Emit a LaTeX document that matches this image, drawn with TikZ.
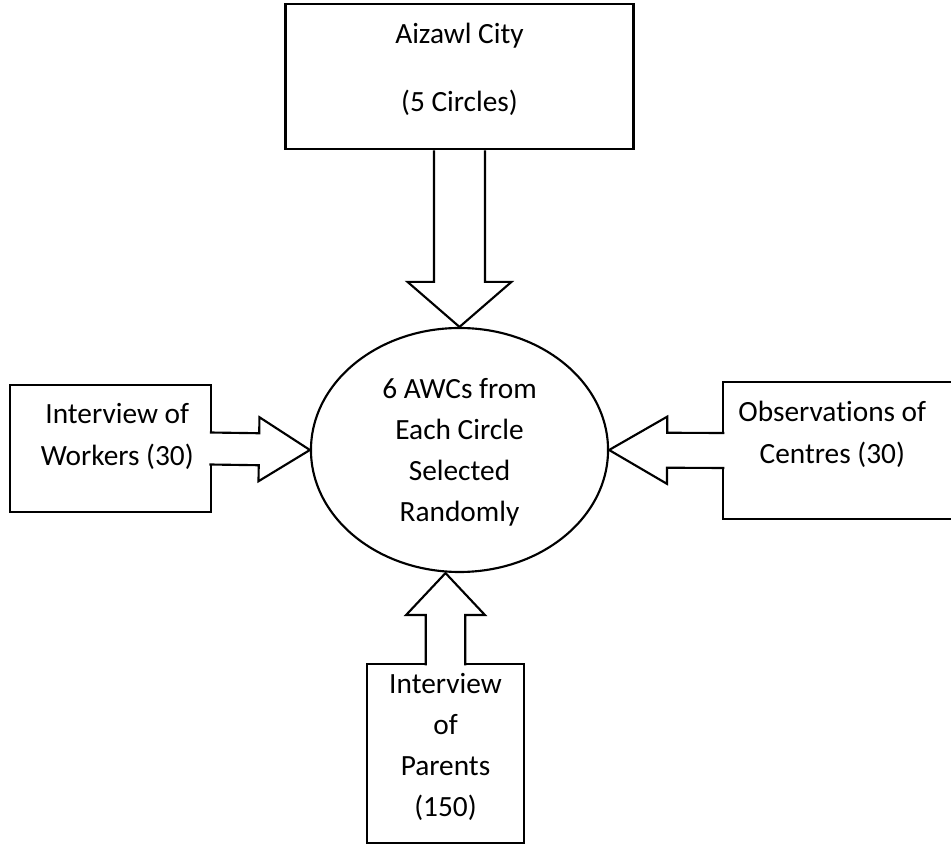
\documentclass[tikz,border=0pt]{standalone}
\usepackage{fontspec}
\setmainfont{Carlito}[Ligatures=NoCommon]
\usepackage{tikz}
\usetikzlibrary{shapes.geometric, calc}
\tikzset{
	source/.style={
		rectangle,
		draw=black,
		line width=0.8pt,
		align=center,
		inner sep=0pt,
		text depth=0pt,
		font=\fontsize{11pt}{15.4pt}\selectfont
	},
	unit/.style={
		ellipse,
		draw=black,
		line width=0.8pt,
		align=center,
		inner sep=0pt,
		text depth=0pt,
		minimum width=111.4pt,
		minimum height=91.5pt,
		font=\fontsize{11pt}{15.4pt}\selectfont
	},
	blockarrow/.style n args={3}{
		draw=black,
		fill=white,
		line width=0.8pt,
		to path={
			($(\tikztostart)!#1!90:(\tikztotarget)$)
			-- ($(\tikztotarget)!#3!(\tikztostart)!#1!-90:(\tikztostart)$)
			-- ($(\tikztotarget)!#3!(\tikztostart)!#2!-90:(\tikztostart)$)
			-- (\tikztotarget)
			-- ($(\tikztotarget)!#3!(\tikztostart)!#2!90:(\tikztostart)$)
			-- ($(\tikztotarget)!#3!(\tikztostart)!#1!90:(\tikztostart)$)
			-- ($(\tikztostart)!#1!-90:(\tikztotarget)$)
		}
	}
}

\begin{document}
\begin{tikzpicture}[x=0.375pt, y=-0.375pt]
	\useasboundingbox (0,0) rectangle (951,846);
	\clip (0,0) rectangle (951,846);
	\node (city) [source, minimum width=130.5pt, minimum height=54.5pt, text height=26.25pt] at (459.5,76.7) {Aizawl City\\[10.2pt](5 Circles)};
	\node (awc) [unit, text height=54pt] at (459.5,450) {6 AWCs from\\Each Circle\\Selected\\Randomly};
	\node (workers) [source, minimum width=75.3pt, minimum height=47.6pt, text height=12.4pt] at (110.3,448.5) {\hspace*{5.2pt}Interview of\\\hspace*{5.2pt}Workers (30)};
	\node (obs) [source, minimum width=86.9pt, minimum height=51.6pt, text height=9.4pt] at (839.2,450.5) {Observations of\hspace*{5.2pt}\\Centres (30)\hspace*{5.2pt}};
	\node (parents) [source, minimum width=59.1pt, minimum height=66.9pt, text height=47.4pt] at (445.5,753.5) {Interview\\of\\Parents\\(150)};

	\draw [blockarrow={9.56pt}{19.5pt}{16.9pt}, fill=none] (city.south) to (awc.north);
	\draw [blockarrow={6pt}{12pt}{19.1pt}] ([xshift=-0.8pt]workers.east) to (awc.west);
	\draw [blockarrow={6.56pt}{12.6pt}{21.75pt}] ([xshift=0.8pt]obs.west) to (awc.east);
	\draw [blockarrow={7.4pt}{14.8pt}{15.75pt}] ([yshift=-0.8pt]parents.north) to (parents.north |- awc.south);
\end{tikzpicture}
\end{document}
